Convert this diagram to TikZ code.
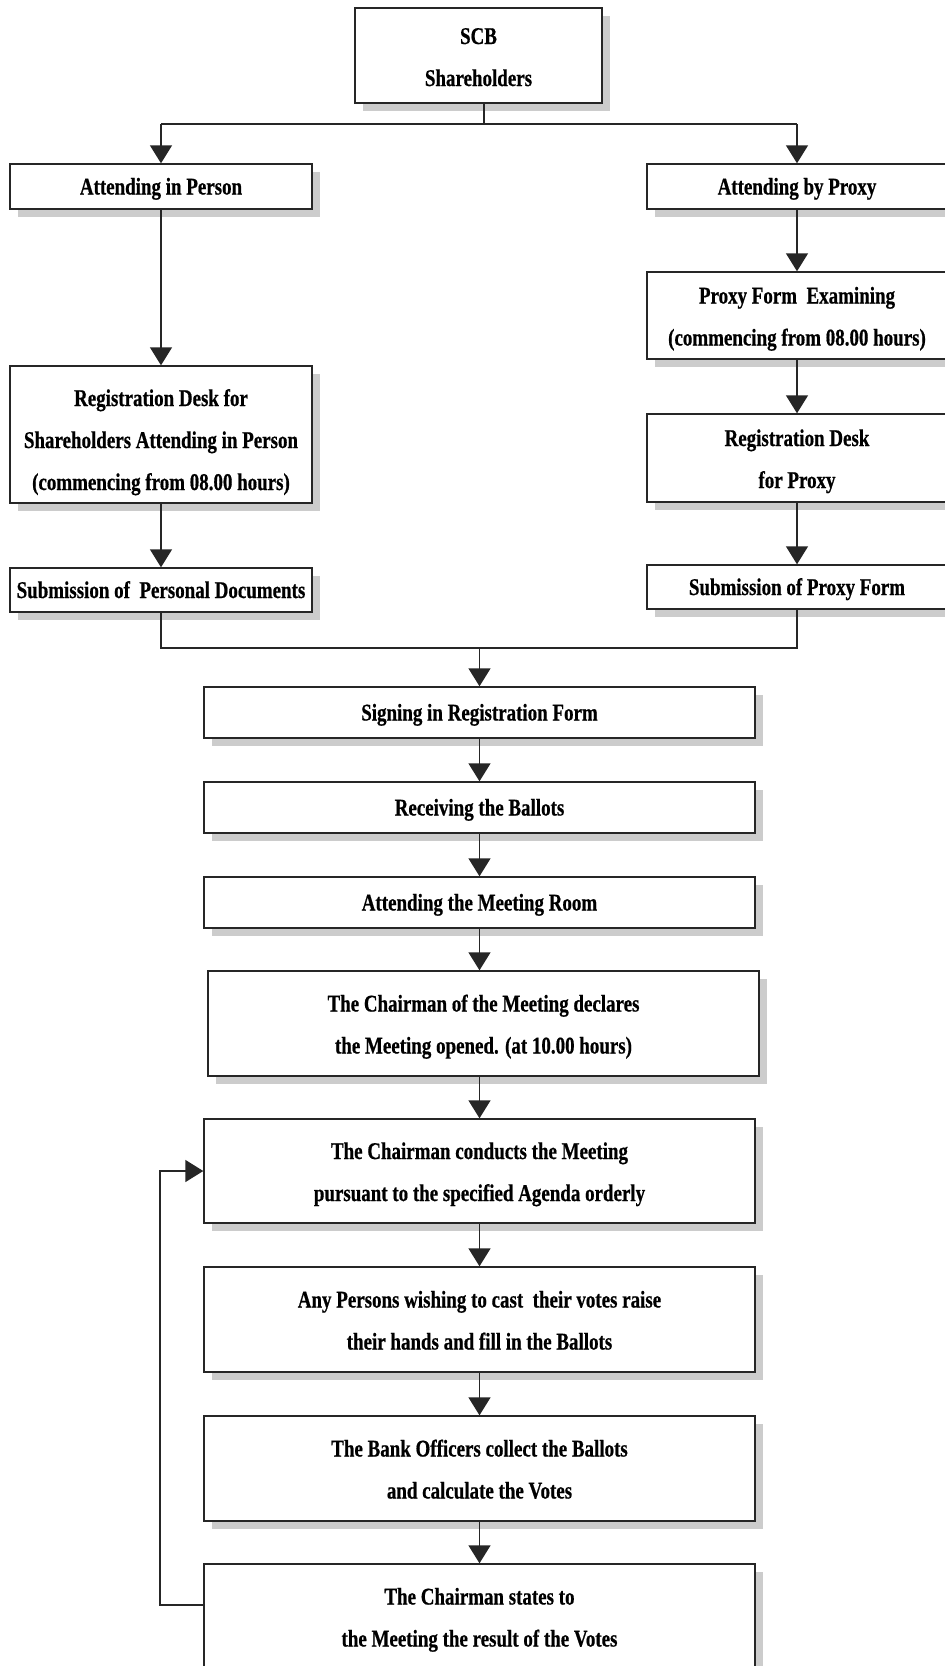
\documentclass[tikz,border=0pt]{standalone}
\usepackage{fontspec}
\newfontfamily\boxfont{Liberation Serif}[FakeStretch=0.79,FakeBold=0.6]
\usetikzlibrary{arrows.meta,shadows}
\begin{document}
\begin{tikzpicture}[x=1pt,y=-1pt,
  box/.style={draw=black!85, line width=1.4pt, fill=white, inner sep=0pt, align=center,
    font=\boxfont\bfseries\fontsize{24}{42}\selectfont,
    general shadow={fill=black!20, shadow xshift=8pt, shadow yshift=-8pt}},
  one/.style={text height=17pt, text depth=1pt},
  two/.style={text height=60pt, text depth=0pt},
  three/.style={text height=111pt, text depth=0pt},
  conn/.style={line width=1.4pt, draw=black!85},
  arr/.style={conn, -{Triangle[length=18pt,width=22pt]}}]
\path[use as bounding box] (0,0) rectangle (945,1666);
\clip (0,0) rectangle (945,1666);
\fill[white] (0,0) rectangle (945,1666);

% nodes
\node[box, text height=61pt, text depth=0pt, minimum width=247pt, minimum height=95pt] (scb) at (478.5,55.5) {SCB\\Shareholders};
\node[box, one, minimum width=302pt, minimum height=45pt] (person) at (161,186.5) {Attending in Person};
\node[box, one, minimum width=300pt, minimum height=45pt] (proxy) at (797,186.5) {Attending by Proxy};
\node[box, two, minimum width=300pt, minimum height=87pt] (exam) at (797,315.5) {Proxy Form\ \ Examining\\(commencing from 08.00 hours)};
\node[box, three, minimum width=302pt, minimum height=137pt] (regL) at (161,434.5) {Registration Desk for\\Shareholders Attending in Person\\(commencing from 08.00 hours)};
\node[box, one, minimum width=302pt, minimum height=44pt] (subL) at (161,590) {Submission of\ \ Personal Documents};
\node[box, two, minimum width=300pt, minimum height=88pt] (regP) at (797,458) {Registration Desk\\for Proxy};
\node[box, one, minimum width=300pt, minimum height=44pt] (subP) at (797,587) {Submission of Proxy Form};

\node[box, one, minimum width=551pt, minimum height=51pt] (sign) at (479.5,712.5) {Signing in Registration Form};
\node[box, one, minimum width=551pt, minimum height=51pt] (recv) at (479.5,807.5) {Receiving the Ballots};
\node[box, one, minimum width=551pt, minimum height=51pt] (room) at (479.5,902.5) {Attending the Meeting Room};
\node[box, two, minimum width=551pt, minimum height=105pt] (open) at (483.5,1023.5) {The Chairman of the Meeting declares\\the Meeting opened. (at 10.00 hours)};
\node[box, two, minimum width=551pt, minimum height=104pt] (conduct) at (479.5,1171) {The Chairman conducts the Meeting\\pursuant to the specified Agenda orderly};
\node[box, two, minimum width=551pt, minimum height=105pt] (persons) at (479.5,1319.5) {Any Persons wishing to cast\ \ their votes raise\\their hands and fill in the Ballots};
\node[box, two, minimum width=551pt, minimum height=105pt] (officers) at (479.5,1468.5) {The Bank Officers collect the Ballots\\and calculate the Votes};
\node[box, two, minimum width=551pt, minimum height=105pt] (states) at (479.5,1616.5) {The Chairman states to\\the Meeting the result of the Votes};

% connectors
\coordinate (top) at (484,124);
\coordinate (tl) at (161,124);
\coordinate (tr) at (797,124);
\draw[conn] (scb.south -| top) -- (top);
\draw[conn] (tl) -- (tr);
\draw[arr] (tl) -- (person.north);
\draw[arr] (tr) -- (proxy.north);
\draw[arr] (person.south) -- (regL.north);
\draw[arr] (regL.south) -- (subL.north);
\draw[arr] (proxy.south) -- (exam.north);
\draw[arr] (exam.south) -- (regP.north);
\draw[arr] (regP.south) -- (subP.north);

\coordinate (m) at (479.5,648);
\draw[conn] (subL.south) |- (m) -| (subP.south);
\draw[arr] (m) -- (sign.north);
\draw[arr] (sign.south) -- (recv.north);
\draw[arr] (recv.south) -- (room.north);
\draw[arr] (room.south) -- (room.south |- open.north);
\draw[arr] (open.south -| room.south) -- (conduct.north);
\draw[arr] (conduct.south) -- (persons.north);
\draw[arr] (persons.south) -- (officers.north);
\draw[arr] (officers.south) -- (states.north);

\coordinate (lp) at (160,1605);
\draw[arr] (states.west |- lp) -- (lp) |- (conduct.west);
\end{tikzpicture}
\end{document}
